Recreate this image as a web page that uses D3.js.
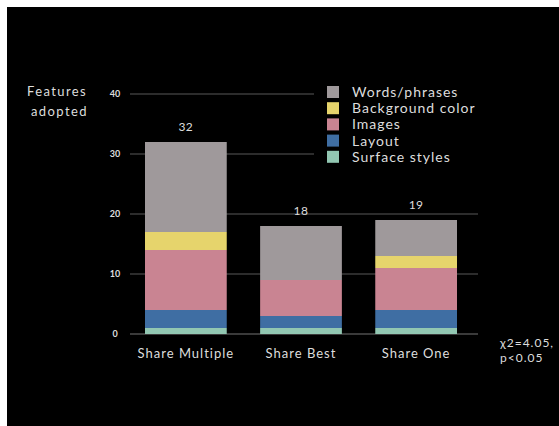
<!DOCTYPE html>
<html>
<head>
<meta charset="utf-8">
<script src="https://cdn.jsdelivr.net/npm/d3@7"></script>
<style>
  body { margin: 0; background: #fff; }
  text { font-family: Lato, "Open Sans", sans-serif; fill: #ddd; }
</style>
</head>
<body>
<div id="chart"></div>
<script>
// DATA
const groups = ["Share Multiple", "Share Best", "Share One"];
const seriesNames = ["Surface styles", "Layout", "Images", "Background color", "Words/phrases"];
const surfaceStyles = [1, 1, 1];
const layout = [3, 2, 3];
const images = [10, 6, 7];
const backgroundColor = [3, 0, 2];
const wordsPhrases = [15, 9, 6];
const totals = [32, 18, 19];
const yTicks = [0, 10, 20, 30, 40];
const colors = ["#92c7b2", "#3f6ea3", "#c98492", "#e6d46c", "#9f999b"];

const width = 559, height = 426;

const rows = groups.map((g, i) => ({
  group: g,
  "Surface styles": surfaceStyles[i],
  "Layout": layout[i],
  "Images": images[i],
  "Background color": backgroundColor[i],
  "Words/phrases": wordsPhrases[i]
}));

const svg = d3.select("#chart").append("svg")
  .attr("width", width)
  .attr("height", height);

// black panel
svg.append("rect")
  .attr("x", 7).attr("y", 7)
  .attr("width", width - 7).attr("height", height - 7)
  .attr("fill", "#000");

// SCALES
const xScale = d3.scaleBand()
  .domain(groups)
  .range([145, 457])
  .paddingInner(0.29)
  .paddingOuter(0);

const yScale = d3.scaleLinear()
  .domain([0, 40])
  .range([334, 94]);

// gridlines (top two stop before legend)
svg.append("g").selectAll("line")
  .data(yTicks)
  .join("line")
  .attr("x1", 130)
  .attr("x2", d => d >= 30 ? 314 : 478)
  .attr("y1", d => yScale(d))
  .attr("y2", d => yScale(d))
  .attr("stroke", d => d === 0 ? "#3a3a3a" : "#2c2c2c")
  .attr("stroke-width", 2);

// tick labels
const yAxis = d3.axisLeft(yScale).tickValues(yTicks).tickSize(0).tickPadding(0);
const yAxisGroup = svg.append("g")
  .attr("transform", "translate(120,0)")
  .call(yAxis);
yAxisGroup.select(".domain").remove();
yAxisGroup.selectAll("text")
  .attr("text-anchor", "middle")
  .attr("x", -5)
  .style("font-family", "Lato, sans-serif")
  .style("font-size", "9px")
  .style("font-weight", "bold")
  .attr("fill", "#ddd");

// STACK
const stack = d3.stack().keys(seriesNames);
const stacked = stack(rows);

svg.append("g").selectAll("g")
  .data(stacked)
  .join("g")
  .attr("fill", (d, i) => colors[i])
  .selectAll("rect")
  .data(d => d)
  .join("rect")
  .attr("x", d => xScale(d.data.group))
  .attr("y", d => yScale(d[1]))
  .attr("width", xScale.bandwidth())
  .attr("height", d => yScale(d[0]) - yScale(d[1]));

// totals
svg.append("g").selectAll("text")
  .data(groups)
  .join("text")
  .attr("x", d => xScale(d) + xScale.bandwidth() / 2)
  .attr("y", (d, i) => yScale(totals[i]) - 11)
  .attr("text-anchor", "middle")
  .style("font-size", "12px")
  .style("letter-spacing", "0.5px")
  .text((d, i) => totals[i]);

// category labels
svg.append("g").selectAll("text")
  .data(groups)
  .join("text")
  .attr("x", d => xScale(d) + xScale.bandwidth() / 2)
  .attr("y", 358)
  .attr("text-anchor", "middle")
  .style("font-size", "13px")
  .style("letter-spacing", "1px")
  .text(d => d);

// y title
svg.append("text")
  .attr("x", 27).attr("y", 96)
  .style("font-size", "13px")
  .style("letter-spacing", "1.4px")
  .text("Features");
svg.append("text")
  .attr("x", 31).attr("y", 116)
  .style("font-size", "13px")
  .style("letter-spacing", "1.4px")
  .text("adopted");

// LEGEND
const legendNames = seriesNames.slice().reverse();
const legendColors = colors.slice().reverse();
const legend = svg.append("g").selectAll("g")
  .data(legendNames)
  .join("g")
  .attr("transform", (d, i) => `translate(327, ${86 + i * 16.2})`);
legend.append("rect")
  .attr("width", 12).attr("height", 12)
  .attr("fill", (d, i) => legendColors[i]);
legend.append("text")
  .attr("x", 25).attr("y", 11)
  .style("font-size", "14px")
  .style("letter-spacing", "1px")
  .text(d => d);

// chi-square note
svg.append("text")
  .attr("x", 500).attr("y", 347)
  .style("font-size", "12px")
  .style("letter-spacing", "1px")
  .text("χ2=4.05,");
svg.append("text")
  .attr("x", 500).attr("y", 362)
  .style("font-size", "12px")
  .style("letter-spacing", "1px")
  .text("p<0.05");
</script>
</body>
</html>
